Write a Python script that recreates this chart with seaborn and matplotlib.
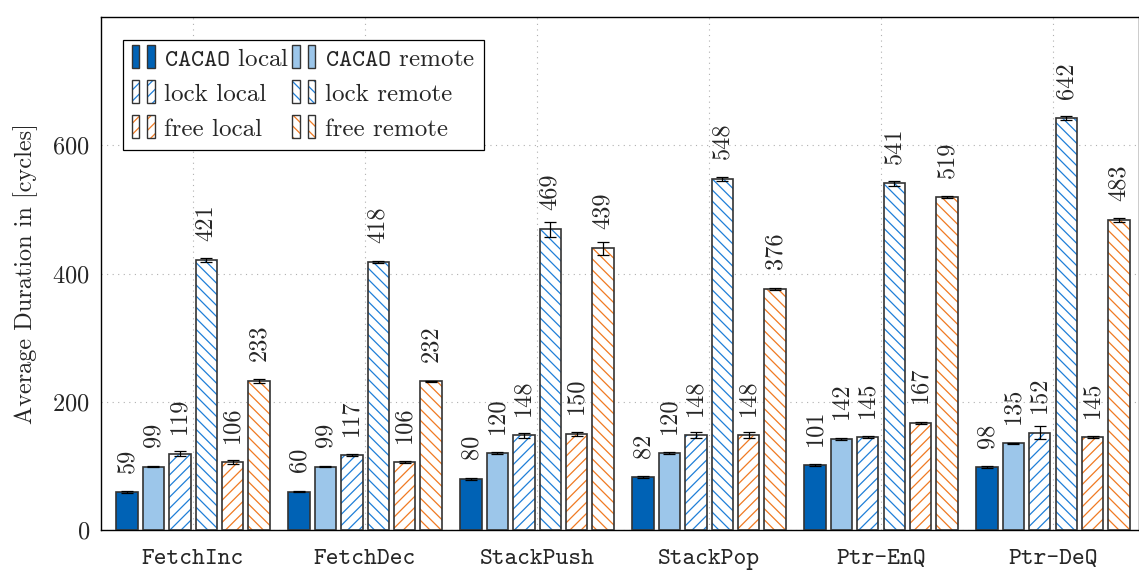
import matplotlib
matplotlib.use("Agg")
import matplotlib.pyplot as plt
from matplotlib.patches import Rectangle, Patch
from matplotlib.legend_handler import HandlerBase
import numpy as np
import pandas as pd
import seaborn as sns

# ---- data -------------------------------------------------------------
operations = ["FetchInc", "FetchDec", "StackPush", "StackPop", "Ptr-EnQ", "Ptr-DeQ"]
series = ["cacao_local", "cacao_remote", "lock_local", "lock_remote", "free_local", "free_remote"]
series_labels = [r"$\mathtt{CACAO}$ local", r"$\mathtt{CACAO}$ remote",
                 "lock local", "lock remote", "free local", "free remote"]

cacao_local = [59, 60, 80, 82, 101, 98]
cacao_remote = [99, 99, 120, 120, 142, 135]
lock_local = [119, 117, 148, 148, 145, 152]
lock_remote = [421, 418, 469, 548, 541, 642]
free_local = [106, 106, 150, 148, 167, 145]
free_remote = [233, 232, 439, 376, 519, 483]

cacao_local_err = [1.5, 1.5, 1.5, 1.5, 1.5, 1.5]
cacao_remote_err = [1, 1, 1, 1, 1, 1]
lock_local_err = [4, 1.5, 4, 5, 2, 10]
lock_remote_err = [3, 1.5, 12, 3, 4, 3]
free_local_err = [2.5, 1, 3, 5, 1.5, 2]
free_remote_err = [3, 1, 10, 2, 2, 3]

y_ticks = [0, 200, 400, 600]

values = [cacao_local, cacao_remote, lock_local, lock_remote, free_local, free_remote]
errors = [cacao_local_err, cacao_remote_err, lock_local_err, lock_remote_err,
          free_local_err, free_remote_err]

# ---- styles -----------------------------------------------------------
DARK_BLUE = "#0062b5"
LIGHT_BLUE = "#9cc6ea"
HATCH_BLUE = "#1f7fd8"
HATCH_ORANGE = "#f07a22"
EDGE = "#333333"

face_colors = [DARK_BLUE, LIGHT_BLUE, "white", "white", "white", "white"]
hatches = [None, None, "///", "\\\\\\", "///", "\\\\\\"]
hatch_colors = [DARK_BLUE, LIGHT_BLUE, HATCH_BLUE, HATCH_BLUE, HATCH_ORANGE, HATCH_ORANGE]

sns.set_style("white")
plt.rcParams["font.family"] = ["cmr10", "DejaVu Serif"]
plt.rcParams["mathtext.fontset"] = "cm"
plt.rcParams["axes.formatter.use_mathtext"] = True
plt.rcParams["axes.unicode_minus"] = False
plt.rcParams["hatch.linewidth"] = 0.9

FS = 17.5
FS_LEG = 18

records = []
for s, vals in zip(series, values):
    for op, v in zip(operations, vals):
        records.append({"operation": op, "series": s, "value": v})
df = pd.DataFrame(records)

fig = plt.figure(figsize=(11.39, 5.72), dpi=100)
ax = fig.add_axes([101 / 1139, 1 - 530 / 572, 1 - 101 / 1139, (530 - 17) / 572])

sns.barplot(data=df, x="operation", y="value", hue="series", order=operations,
            hue_order=series, palette=dict(zip(series, face_colors)),
            width=0.92, gap=0.19, errorbar=None, legend=False, ax=ax, zorder=2)

bar_containers = list(ax.containers)
for i, container in enumerate(bar_containers):
    for j, bar in enumerate(container):
        bar.set_facecolor(face_colors[i])
        bar.set_linewidth(0)
        if hatches[i]:
            bar.set_hatch(hatches[i])
            bar.set_edgecolor(hatch_colors[i])
        else:
            bar.set_edgecolor(face_colors[i])
        x0, w, h = bar.get_x(), bar.get_width(), bar.get_height()
        ax.add_patch(Rectangle((x0, 0), w, h, fill=False, edgecolor=EDGE,
                               linewidth=1.2, zorder=3))
        xc = x0 + w / 2
        ax.errorbar(xc, h, yerr=errors[i][j], color="black", linewidth=0.9,
                    capsize=4, capthick=0.9, zorder=4)
        ax.annotate(f"{values[i][j]}", (xc, h), xytext=(0, 14),
                    textcoords="offset points", rotation=90, ha="center",
                    va="bottom", fontsize=FS, zorder=5)

ax.set_xlim(-0.535, 5.5)
ax.set_ylim(0, 800)
ax.set_yticks(y_ticks)
ax.set_xticks(range(len(operations)))
ax.set_xticklabels(operations, family="cmtt10", fontsize=FS)
ax.tick_params(axis="y", labelsize=FS, direction="in", length=5, color="#888888", pad=8)
ax.tick_params(axis="x", direction="out", length=8, color="#999999", pad=6)
ax.set_xlabel("")
ax.set_ylabel("Average Duration in [cycles]", fontsize=FS, labelpad=10)
ax.grid(True, linestyle=(0, (1, 4)), color="#b0b0b0", linewidth=0.8, zorder=0)
ax.set_axisbelow(True)
for sp in ax.spines.values():
    sp.set_color("black")
    sp.set_linewidth(1.0)


class TwoBarHandler(HandlerBase):
    def __init__(self, face, hatch, hcolor):
        super().__init__()
        self.face, self.hatch, self.hcolor = face, hatch, hcolor

    def create_artists(self, legend, orig_handle, xdescent, ydescent, width,
                       height, fontsize, trans):
        artists = []
        bw = width * 0.3
        bh = height * 1.3
        y0 = -ydescent - height * 0.12
        for x0 in (-xdescent, -xdescent + width * 0.62):
            fill = Rectangle((x0, y0), bw, bh, facecolor=self.face,
                             hatch=self.hatch, edgecolor=self.hcolor,
                             linewidth=0, transform=trans)
            line = Rectangle((x0, y0), bw, bh, fill=False, edgecolor=EDGE,
                             linewidth=1.0, transform=trans)
            artists.extend([fill, line])
        return artists


# legend entries read row by row in two columns
legend_order = [0, 2, 4, 1, 3, 5]
handles = [Patch(label=series_labels[k]) for k in legend_order]
hmap = {h: TwoBarHandler(face_colors[k], hatches[k], hatch_colors[k])
        for k, h in zip(legend_order, handles)}
leg = ax.legend(handles=handles, handler_map=hmap, ncol=2, loc="upper left",
                bbox_to_anchor=(0.021, 0.956), fontsize=FS_LEG, frameon=True,
                fancybox=False, edgecolor="black", framealpha=1,
                handlelength=1.0, handletextpad=0.3, columnspacing=0.12,
                labelspacing=0.5, borderpad=0.35, borderaxespad=0)
leg.get_frame().set_linewidth(0.9)

fig.savefig("out.png", dpi=100)
